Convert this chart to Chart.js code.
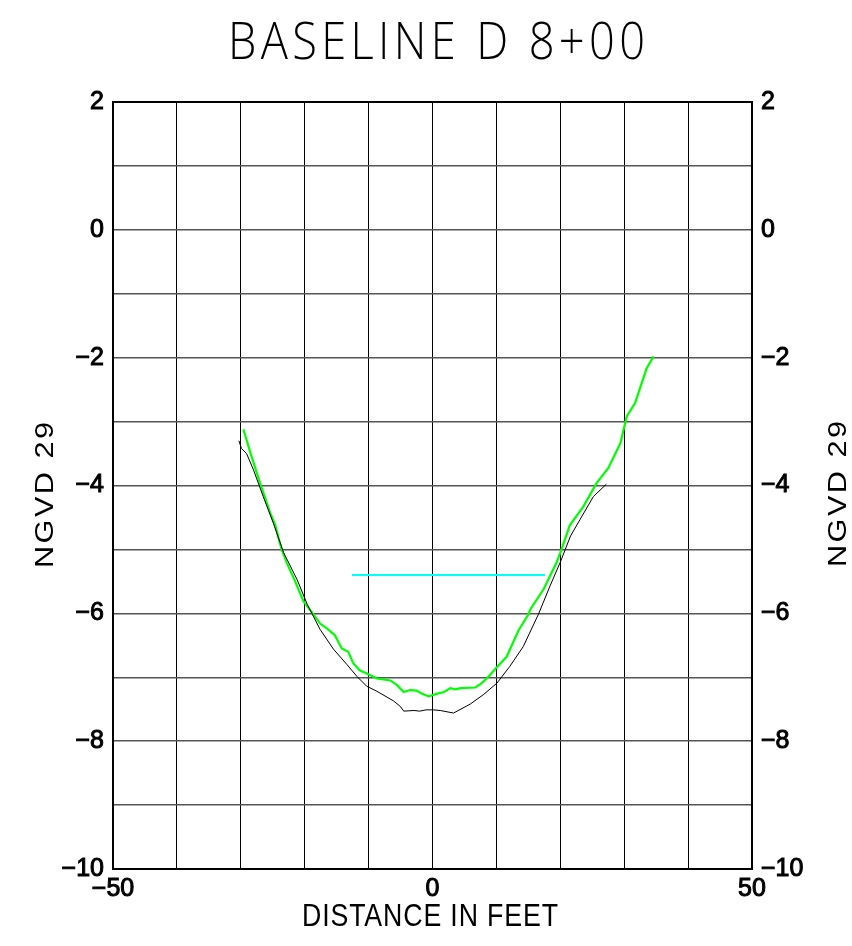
<!DOCTYPE html>
<html>
<head>
<meta charset="utf-8">
<title>Baseline D 8+00</title>
<script src="https://cdn.jsdelivr.net/npm/chart.js@4.4.1/dist/chart.umd.min.js"></script>
<style>
    html, body { margin: 0; padding: 0; background: #ffffff; }
    #wrap { width: 852px; height: 946px; }
</style>
</head>
<body>
<div id="wrap">
    <canvas id="profileChart" width="852" height="946"></canvas>
</div>
<script>

/* ==========================================================
   DATA
========================================================== */

const chartTitle = "BASELINE D 8+00";
const xTitle = "DISTANCE IN FEET";
const yTitle = "NGVD 29";

const xTickLabels = [-50, 0, 50];
const yTickLabels = [-10, -8, -6, -4, -2, 0, 2];

// green profile (latest survey)
const greenX = [-29.6, -28.4, -27.0, -26.1, -25.4, -24.6, -24.0, -23.6, -22.8, -21.5, -20.2, -18.6, -17.6, -16.6, -15.3, -14.2, -13.2, -12.4, -11.4, -10.3, -8.7, -6.6, -5.6, -4.5, -3.5, -2.5, -1.6, -0.6, 0.6, 1.8, 2.8, 3.6, 4.4, 6.7, 7.6, 8.5, 10.1, 11.6, 12.5, 13.5, 15.0, 15.3, 17.4, 19.4, 20.0, 21.5, 23.6, 25.7, 27.5, 29.4, 30.4, 31.7, 33.5, 34.6];
const greenY = [-3.12, -3.52, -3.96, -4.22, -4.43, -4.62, -4.86, -5.00, -5.21, -5.50, -5.81, -6.02, -6.16, -6.23, -6.34, -6.55, -6.60, -6.78, -6.89, -6.94, -7.02, -7.05, -7.12, -7.23, -7.20, -7.21, -7.26, -7.30, -7.26, -7.23, -7.17, -7.19, -7.17, -7.16, -7.10, -7.02, -6.84, -6.68, -6.48, -6.26, -6.02, -5.94, -5.62, -5.21, -5.05, -4.62, -4.33, -3.96, -3.73, -3.34, -2.92, -2.71, -2.17, -1.98];

// black profile (earlier survey)
const blackX = [-30.3, -29.9, -29.1, -28.0, -26.5, -24.9, -23.3, -21.2, -19.6, -17.6, -15.5, -13.4, -11.8, -10.3, -8.7, -6.1, -5.0, -4.5, -2.9, -2.0, -1.0, 0.1, 1.2, 3.3, 5.9, 8.0, 10.1, 12.1, 14.2, 16.6, 18.4, 20.0, 21.6, 23.1, 25.2, 27.2];
const blackY = [-3.30, -3.42, -3.50, -3.76, -4.17, -4.59, -5.05, -5.47, -5.86, -6.25, -6.56, -6.80, -6.99, -7.14, -7.22, -7.37, -7.46, -7.53, -7.52, -7.53, -7.51, -7.51, -7.52, -7.56, -7.42, -7.27, -7.09, -6.83, -6.52, -6.01, -5.57, -5.20, -4.79, -4.53, -4.17, -3.98];

// cyan water level
const waterX = [-12.6, 17.6];
const waterY = [-5.40, -5.40];


/* ==========================================================
   HELPERS
========================================================== */

function toPoints(xs, ys) {

    return xs.map((x, i) => ({ x: x, y: ys[i] }));

}

function fmt(v) {

    return v < 0 ? "\u2212" + Math.abs(v) : String(v);

}

// draw text from a start point on its baseline, fitted to a width
function fitText(ctx, text, x, y, font, width, angle, spacing) {

    ctx.save();
    ctx.font = font;
    ctx.letterSpacing = (spacing || 0) + "px";
    ctx.translate(x, y);
    ctx.rotate(angle || 0);
    const w = ctx.measureText(text).width - (spacing || 0);
    ctx.scale(width / w, 1);
    ctx.textAlign = "left";
    ctx.textBaseline = "alphabetic";
    ctx.fillStyle = "#000000";
    ctx.fillText(text, 0, 0);
    ctx.restore();

}


/* ==========================================================
   TEXT PLUGIN
========================================================== */

const labelsPlugin = {

    id: "plotLabels",

    afterDraw(chart) {

        const ctx = chart.ctx;

        fitText(ctx, chartTitle, 228, 59, "300 52px 'Open Sans'", 417, 0, 5);

        fitText(ctx, xTitle, 302, 926, "31px 'Liberation Sans'", 256, 0, 1);

        fitText(ctx, yTitle, 53, 568, "25px 'Liberation Sans'", 146, -Math.PI / 2, 2);

        fitText(ctx, yTitle, 846, 567, "25px 'Liberation Sans'", 146, -Math.PI / 2, 2);

    }

};


/* ==========================================================
   CHART
========================================================== */

const tickFont = { family: "'Liberation Sans', Arial, sans-serif", size: 25 };

const ctx = document
    .getElementById("profileChart")
    .getContext("2d");

const profileChart = new Chart(ctx, {

    type: "line",

    data: {

        datasets: [

            {
                label: "water",
                data: toPoints(waterX, waterY),
                borderColor: "#00ffff",
                borderWidth: 2,
                pointRadius: 0,
                tension: 0
            },

            {
                label: "earlier",
                data: toPoints(blackX, blackY),
                borderColor: "#000000",
                borderWidth: 1,
                pointRadius: 0,
                tension: 0
            },

            {
                label: "latest",
                data: toPoints(greenX, greenY),
                borderColor: "#00ff00",
                borderWidth: 2.2,
                pointRadius: 0,
                tension: 0
            }

        ]

    },

    options: {

        responsive: false,

        animation: false,

        layout: {

            padding: { top: 102, left: 0, right: 0, bottom: 0 }

        },

        plugins: {

            legend: { display: false },

            tooltip: { enabled: false }

        },

        scales: {

            x: {

                type: "linear",
                min: -50,
                max: 50,

                afterFit: s => { s.height = 77; },

                ticks: {
                    stepSize: 10,
                    font: tickFont,
                    color: "#000000",
                    textStrokeColor: "#000000",
                    textStrokeWidth: 1,
                    padding: 5,
                    maxRotation: 0,
                    autoSkip: false,
                    callback: v => xTickLabels.includes(v) ? fmt(v) : ""
                },

                grid: {
                    color: "#000000",
                    lineWidth: 1,
                    drawTicks: false
                },

                border: { color: "#000000", width: 2 }

            },

            xTop: {

                type: "linear",
                position: "top",
                min: -50,
                max: 50,
                afterFit: s => { s.height = 0; },
                ticks: { display: false },
                grid: { drawOnChartArea: false, drawTicks: false },
                border: { color: "#000000", width: 2 }

            },

            y: {

                type: "linear",
                position: "left",
                min: -10,
                max: 2,

                afterFit: s => { s.width = 113; },

                ticks: {
                    stepSize: 1,
                    font: tickFont,
                    color: "#000000",
                    textStrokeColor: "#000000",
                    textStrokeWidth: 1,
                    padding: 9,
                    autoSkip: false,
                    callback: v => yTickLabels.includes(v) ? fmt(v) : ""
                },

                grid: {
                    color: "#555555",
                    lineWidth: 1.5,
                    drawTicks: false
                },

                border: { color: "#000000", width: 2 }

            },

            yRight: {

                type: "linear",
                position: "right",
                min: -10,
                max: 2,

                afterFit: s => { s.width = 100; },

                ticks: {
                    stepSize: 1,
                    font: tickFont,
                    color: "#000000",
                    textStrokeColor: "#000000",
                    textStrokeWidth: 1,
                    padding: 9,
                    autoSkip: false,
                    callback: v => yTickLabels.includes(v) ? fmt(v) : ""
                },

                grid: { drawOnChartArea: false, drawTicks: false },

                border: { color: "#000000", width: 2 }

            }

        }

    },

    plugins: [labelsPlugin]

});

</script>
</body>
</html>
